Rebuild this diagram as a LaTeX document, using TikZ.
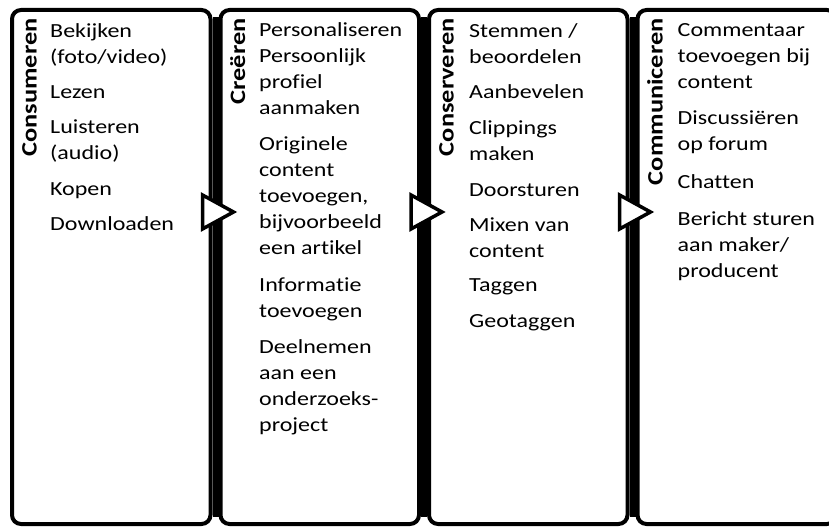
\documentclass[tikz,border=0pt]{standalone}
\usepackage{fontspec}
\setmainfont{Carlito}[FakeStretch=1.2, Ligatures=NoCommon]
\usepackage{tikz}
\usetikzlibrary{positioning}

\begin{document}
\begin{tikzpicture}[x=1pt, y=1pt, node distance=6pt, panel box/.style={draw, line width=4pt, rounded corners=9pt, minimum width=198.5pt, minimum height=514pt, inner sep=0pt}, phase title/.style={rotate=90, anchor=base east, inner sep=0pt, font=\fontsize{22}{26}\selectfont\bfseries}, item list/.style={anchor=north west, align=left, inner sep=0pt, font=\fontsize{20}{26}\selectfont}, pointer/.style={draw, line width=3.5pt, fill=white, line join=miter}]
        \useasboundingbox (0,0) rectangle (829,528);

        % Panels
        \node[panel box] (p1) at (111.25,261) {};
        \node[panel box] (p2) [right=of p1] {};
        \node[panel box] (p3) [right=of p2] {};
        \node[panel box] (p4) [right=of p3] {};

        % Black bars between the panels
        \foreach \a/\b in {p1/p2, p2/p3, p3/p4}
            \fill ([yshift=-9pt]\a.north east) rectangle ([yshift=9pt]\b.south west);

        % Titles
        \node[phase title] (t1) at ([xshift=26.5pt, yshift=-10pt]p1.north west) {Consumeren};
        \node[phase title] (t2) at ([xshift=26.5pt, yshift=-10pt]p2.north west) {Creëren};
        \node[phase title] (t3) at ([xshift=26.5pt, yshift=-10pt]p3.north west) {Conserveren};
        \node[phase title] (t4) at ([xshift=27pt, yshift=-10pt]p4.north west) {Communiceren};

        % Lists
        \node[item list] (l1) at ([xshift=40pt, yshift=-15.5pt]p1.north west)
            {Bekijken\\(foto/video)\\[9pt]Lezen\\[9pt]Luisteren\\(audio)\\[10pt]Kopen\\[9pt]Downloaden};
        \node[item list] (l2) at ([xshift=40.5pt, yshift=-14.5pt]p2.north west)
            {Personaliseren\\Persoonlijk\\profiel\\aanmaken\\[10pt]Originele\\content\\toevoegen,\\bijvoorbeeld\\een artikel\\[11pt]Informatie\\toevoegen\\[10pt]Deelnemen\\aan een\\onderzoeks-\\project};
        \node[item list] (l3) at ([xshift=42pt, yshift=-15.5pt]p3.north west)
            {Stemmen /\\beoordelen\\[9pt]Aanbevelen\\[10pt]Clippings\\maken\\[10pt]Doorsturen\\[9pt]Mixen van\\content\\[8pt]Taggen\\[10pt]Geotaggen};
        \node[item list] (l4) at ([xshift=42pt, yshift=-15.5pt]p4.north west)
            {Commentaar\\toevoegen bij\\content\\[10pt]Discussiëren\\op forum\\[12pt]Chatten\\[11pt]Bericht sturen\\aan maker/\\producent};

        % Pointers
        \foreach \p in {p2, p3, p4}
            \draw[pointer] ([xshift=-16pt, yshift=72pt]\p.west) -- ++(31pt,-17pt) -- ++(-31pt,-17pt) -- cycle;
    \end{tikzpicture}
\end{document}
